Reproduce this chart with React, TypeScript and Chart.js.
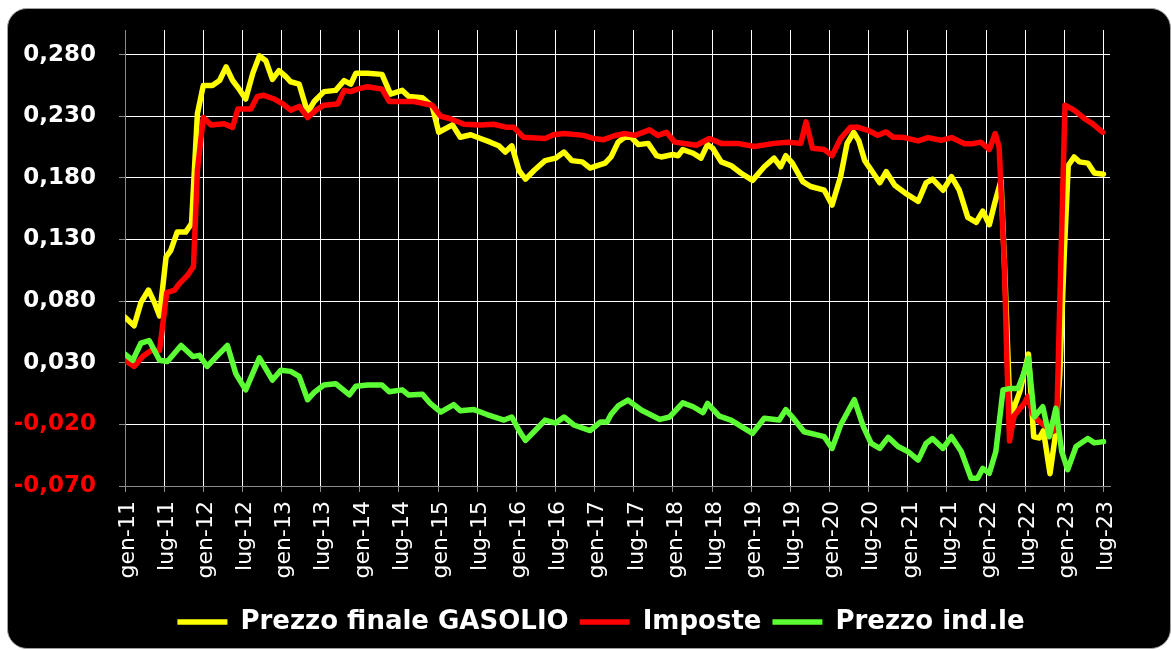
import React, { useEffect, useRef } from 'react';
import { Chart, registerables } from 'chart.js';

Chart.register(...registerables);

// x positions are months since gen-11 (0 = gen-11, 150 = lug-23)
const X_TICK_LABELS = [
  'gen-11', 'lug-11', 'gen-12', 'lug-12', 'gen-13', 'lug-13', 'gen-14', 'lug-14',
  'gen-15', 'lug-15', 'gen-16', 'lug-16', 'gen-17', 'lug-17', 'gen-18', 'lug-18',
  'gen-19', 'lug-19', 'gen-20', 'lug-20', 'gen-21', 'lug-21', 'gen-22', 'lug-22',
  'gen-23', 'lug-23',
];
const Y_TICKS = [-0.07, -0.02, 0.03, 0.08, 0.13, 0.18, 0.23, 0.28];

const SERIES_NAMES = ['Prezzo finale GASOLIO', 'Imposte', 'Prezzo ind.le'];

const prezzoFinaleX = [
  0, 1.4, 2.45, 3.6, 4.5, 5.3, 6.3, 7, 8, 9.3, 10.2, 11.1, 12, 13.4, 14.5, 15.5, 16.5, 17.5, 18.5, 19.6,
  20.6, 21.6, 22.6, 23.6, 24.7, 25.4, 26.7, 28, 29, 30.5, 32.3, 33.6, 34.6, 35.4, 37.2, 39.4, 40.7, 42.5,
  43.5, 45.6, 47.1, 48.1, 50.2, 51.4, 53, 54.5, 56, 57.3, 58.3, 59.3, 60.4, 61.4, 62.7, 64.4, 66, 67.3,
  68.5, 70.1, 71.3, 72.4, 73.6, 74.5, 75.6, 76.6, 77.6, 78.7, 80.2, 81.5, 82.2, 84, 84.8, 85.5, 87.1,
  88.3, 89.3, 90.1, 91.4, 92.9, 94.4, 96.2, 98, 99.5, 100.5, 101.3, 102.3, 103.9, 105.1, 107.2, 108.4,
  109.7, 110.7, 111.7, 112.5, 113.4, 114.7, 115.7, 116.7, 118, 119.8, 121.6, 122.8, 123.8, 125.4, 126.7,
  127.9, 129.2, 130.5, 131.5, 132.5, 133.3, 134.3, 134.9, 135.6, 135.9, 137.2, 138.5, 139.3, 140.2,
  140.8, 141.8, 142.6, 143.3, 144.0, 144.6, 145.5, 146.3, 147.6, 148.6, 150,
];
const prezzoFinaleY = [
  0.067, 0.060, 0.079, 0.089, 0.079, 0.068, 0.116, 0.121, 0.136, 0.136, 0.143, 0.232, 0.255, 0.255, 0.259,
  0.270, 0.259, 0.252, 0.244, 0.265, 0.279, 0.275, 0.260, 0.267, 0.262, 0.258, 0.256, 0.233, 0.242, 0.250,
  0.251, 0.259, 0.256, 0.265, 0.265, 0.264, 0.248, 0.251, 0.246, 0.245, 0.238, 0.217, 0.223, 0.213, 0.215,
  0.212, 0.209, 0.206, 0.201, 0.206, 0.186, 0.179, 0.186, 0.194, 0.196, 0.201, 0.194, 0.193, 0.188, 0.190,
  0.192, 0.197, 0.209, 0.213, 0.213, 0.207, 0.208, 0.198, 0.197, 0.199, 0.198, 0.203, 0.200, 0.196, 0.207,
  0.204, 0.193, 0.190, 0.184, 0.178, 0.189, 0.196, 0.189, 0.198, 0.192, 0.177, 0.173, 0.170, 0.158, 0.181,
  0.208, 0.217, 0.210, 0.194, 0.184, 0.176, 0.185, 0.174, 0.167, 0.161, 0.176, 0.179, 0.170, 0.181, 0.170,
  0.148, 0.144, 0.153, 0.142, 0.159, 0.178, 0.100, 0.000, -0.012, 0.007, 0.037, -0.030, -0.031, -0.025,
  -0.060, -0.030, 0.020, 0.120, 0.190, 0.197, 0.193, 0.192, 0.184, 0.183,
];

const imposteX = [
  0, 1.4, 2.7, 4, 5.3, 6.4, 7.6, 8.3, 9.6, 10.5, 11.1, 12, 13.2, 15.2, 16.5, 17.3, 19.3, 20.3, 21.3, 22.9,
  24.2, 25.4, 26.7, 28, 29.3, 30.5, 32.6, 33.6, 34.6, 35.6, 37.2, 39.4, 40.5, 44.3, 46.1, 47.1, 48.4, 49.9,
  52, 54.5, 56.5, 58.6, 59.6, 61.1, 64.4, 65.7, 67.3, 70.3, 71.8, 73.4, 74.9, 76.6, 78.2, 80.4, 81.7, 83,
  84.3, 87.6, 89.6, 91.4, 93.9, 96.5, 99.5, 101.6, 103.6, 104.4, 105.4, 107.2, 108.4, 109.7, 111.2, 112.4,
  113.9, 115.4, 116.7, 117.7, 119.5, 121.6, 123.1, 125.1, 126.7, 128.7, 130, 131.2, 132.5, 133.4, 134,
  134.8, 135.2, 135.6, 136.3, 137.9, 138.4, 139.2, 140.2, 141.2, 142.2, 142.8, 144.1, 145.5, 147.1, 148.3,
  149.9,
];
const imposteY = [
  0.032, 0.027, 0.035, 0.040, 0.040, 0.087, 0.089, 0.094, 0.101, 0.108, 0.186, 0.229, 0.223, 0.224, 0.221,
  0.236, 0.236, 0.246, 0.247, 0.244, 0.240, 0.235, 0.238, 0.229, 0.235, 0.239, 0.240, 0.251, 0.250, 0.252,
  0.254, 0.252, 0.242, 0.242, 0.240, 0.239, 0.230, 0.228, 0.2235, 0.223, 0.2235, 0.221, 0.221, 0.213, 0.212,
  0.215, 0.216, 0.2145, 0.212, 0.211, 0.214, 0.216, 0.2145, 0.219, 0.2145, 0.217, 0.209, 0.2065, 0.212,
  0.208, 0.208, 0.2055, 0.208, 0.209, 0.208, 0.2255, 0.204, 0.203, 0.198, 0.212, 0.221, 0.221, 0.2186,
  0.2146, 0.2173, 0.2132, 0.2127, 0.210, 0.2127, 0.2105, 0.2127, 0.2078, 0.2078, 0.209, 0.203, 0.216, 0.205,
  0.111, 0.030, -0.0335, -0.013, -0.0027, 0.0027, -0.012, -0.018, -0.022, -0.026, -0.024, 0.239, 0.235,
  0.228, 0.224, 0.217,
];

const prezzoIndX = [
  0, 1.2, 2.45, 3.7, 5.3, 6.5, 8.6, 10.4, 11.4, 12.6, 14.2, 15.7, 17, 18.5, 20.6, 22.6, 23.9, 25.4, 26.7,
  28, 29, 30.5, 32.3, 34.4, 35.4, 37.2, 39.4, 40.5, 42.5, 43.5, 45.6, 46.8, 48.4, 50.4, 51.4, 53.5, 55.5,
  58.1, 59.3, 60.4, 61.4, 62.7, 64.4, 66, 67.3, 68.8, 71.3, 72.9, 73.9, 74.5, 75.6, 77.1, 79.2, 82, 83.5,
  85.5, 87.1, 88.6, 89.3, 91.1, 92.9, 96.2, 98, 100.3, 101.3, 102.3, 104.1, 107.2, 108.4, 109.7, 111.8,
  113.2, 114.4, 115.7, 117, 118.5, 120, 121.6, 122.8, 123.8, 125.4, 126.7, 128.2, 129.7, 130.7, 131.5,
  132.5, 133.5, 134.6, 135.8, 136.9, 137.6, 138.5, 139.4, 140.7, 141.7, 142.7, 143.6, 144.5, 145.8,
  147.6, 148.6, 150,
];
const prezzoIndY = [
  0.037, 0.032, 0.046, 0.048, 0.032, 0.031, 0.044, 0.035, 0.036, 0.027, 0.036, 0.044, 0.021, 0.008, 0.034,
  0.016, 0.024, 0.023, 0.019, 0.000, 0.006, 0.012, 0.013, 0.004, 0.011, 0.012, 0.012, 0.0065, 0.008, 0.0038,
  0.0045, -0.003, -0.010, -0.004, -0.009, -0.008, -0.012, -0.0165, -0.014, -0.025, -0.033, -0.026, -0.0165,
  -0.019, -0.014, -0.0205, -0.025, -0.018, -0.018, -0.012, -0.005, -0.0003, -0.0085, -0.016, -0.014, -0.0025,
  -0.0057, -0.0105, -0.003, -0.0133, -0.0165, -0.0273, -0.015, -0.0165, -0.008, -0.014, -0.026, -0.030,
  -0.0395, -0.0205, 0.000, -0.022, -0.0355, -0.0395, -0.0305, -0.038, -0.042, -0.049, -0.0355, -0.0315,
  -0.0395, -0.030, -0.042, -0.0637, -0.0637, -0.0557, -0.0597, -0.042, 0.008, 0.0092, 0.0092, 0.0186,
  0.0335, -0.014, -0.0057, -0.030, -0.007, -0.042, -0.0568, -0.038, -0.0315, -0.035, -0.034,
];

const toPoints = (xs: number[], ys: number[]) => xs.map((x, i) => ({ x, y: ys[i] }));

const FONT = 'DejaVu Sans';
const AXIS_GRAY = '#8c8c8c';

// moves the legend block sideways so that it is centred like the original
const legendShift = {
  id: 'legendShift',
  afterLayout(chart: any) {
    if (chart.legend) {
      chart.legend.left += 12;
      chart.legend.right += 12;
    }
  },
};

export default function App() {
  const canvasRef = useRef<HTMLCanvasElement | null>(null);

  useEffect(() => {
    if (!canvasRef.current) return;
    const lineBase = {
      borderWidth: 5.5,
      pointRadius: 0,
      pointHoverRadius: 0,
      tension: 0,
      borderJoinStyle: 'round' as const,
      borderCapStyle: 'round' as const,
      fill: false,
    };
    const chart = new Chart(canvasRef.current, {
      type: 'line',
      data: {
        datasets: [
          {
            ...lineBase,
            label: SERIES_NAMES[0],
            data: toPoints(prezzoFinaleX, prezzoFinaleY),
            borderColor: '#ffff00',
            backgroundColor: '#ffff00',
            order: 3,
          },
          {
            ...lineBase,
            label: SERIES_NAMES[1],
            data: toPoints(imposteX, imposteY),
            borderColor: '#ff0000',
            backgroundColor: '#ff0000',
            order: 2,
          },
          {
            ...lineBase,
            label: SERIES_NAMES[2],
            data: toPoints(prezzoIndX, prezzoIndY),
            borderColor: '#5cff33',
            backgroundColor: '#5cff33',
            order: 1,
          },
        ],
      },
      options: {
        responsive: false,
        animation: false,
        events: [],
        layout: { padding: { top: 21, right: 0, bottom: 3, left: 0 } },
        plugins: {
          tooltip: { enabled: false },
          legend: {
            position: 'bottom',
            align: 'center',
            labels: {
              color: '#ffffff',
              font: { family: FONT, size: 26, weight: 'bold' },
              usePointStyle: true,
              pointStyle: 'line',
              pointStyleWidth: 50,
              padding: 11,
              sort: (a: any, b: any) => a.datasetIndex - b.datasetIndex,
            },
          },
        },
        scales: {
          x: {
            type: 'linear',
            min: 0,
            max: 151,
            afterBuildTicks: (s: any) => {
              s.ticks = X_TICK_LABELS.map((_, i) => ({ value: i * 6 }));
            },
            afterFit: (s: any) => {
              s.height = 112;
              s.paddingLeft = 0;
              s.paddingRight = 0;
            },
            grid: { color: '#ffffff', lineWidth: 1, tickColor: AXIS_GRAY, tickLength: 6 },
            border: { color: AXIS_GRAY, width: 1 },
            ticks: {
              color: '#ffffff',
              font: { family: FONT, size: 22 },
              minRotation: 90,
              maxRotation: 90,
              autoSkip: false,
              padding: 9,
              labelOffset: 3,
              callback: (v: any) => X_TICK_LABELS[Math.round(Number(v) / 6)] ?? '',
            },
          },
          y: {
            type: 'linear',
            min: -0.07,
            max: 0.3,
            afterBuildTicks: (s: any) => {
              s.ticks = Y_TICKS.map((v) => ({ value: v }));
            },
            afterFit: (s: any) => {
              s.width = 117;
              s.paddingTop = 0;
              s.paddingBottom = 0;
            },
            grid: { color: '#ffffff', lineWidth: 1, tickColor: AXIS_GRAY, tickLength: 6 },
            border: { color: AXIS_GRAY, width: 1 },
            ticks: {
              padding: 23,
              color: (ctx: any) => (ctx.tick && ctx.tick.value < 0 ? '#ff0000' : '#ffffff'),
              font: { family: FONT, size: 23, weight: 'bold' },
              callback: (v: any) => Number(v).toFixed(3).replace('.', ','),
            },
          },
          y2: {
            type: 'linear',
            position: 'right',
            display: true,
            grid: { display: false, drawTicks: false },
            border: { display: false },
            ticks: { display: false },
            afterFit: (s: any) => {
              s.width = 60;
              s.paddingTop = 0;
              s.paddingBottom = 0;
            },
          },
        },
      },
      plugins: [legendShift],
    } as any);
    return () => chart.destroy();
  }, []);

  return (
    <div
      style={{
        position: 'absolute',
        left: 7,
        top: 8,
        width: 1164,
        height: 641,
        boxSizing: 'border-box',
        border: '1px solid #a0a0a0',
        borderRadius: 20,
        background: '#000000',
        overflow: 'hidden',
      }}
    >
      <canvas ref={canvasRef} width={1162} height={639} style={{ display: 'block' }} />
    </div>
  );
}
